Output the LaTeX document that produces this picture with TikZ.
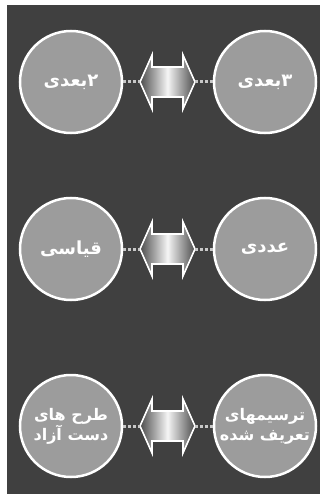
\documentclass[tikz,border=0pt]{standalone}
\usepackage{fontspec}
\TeXXeTstate=1
\newfontfamily\arabicfont[Script=Arabic]{DejaVu Sans}
\definecolor{bgdark}{HTML}{404040}
\definecolor{circfill}{HTML}{9C9C9C}
\definecolor{dotcol}{HTML}{C8C8C8}
\tikzset{
  bubble/.style={circle, draw=white, line width=2.5pt, fill=circfill, minimum size=102pt, inner sep=-25pt,
    text=white, font=\arabicfont\bfseries\fontsize{18}{21}\selectfont, align=center},
  smalltext/.style={font=\arabicfont\bfseries\fontsize{16}{20}\selectfont},
  dblarrow/.style={draw=white, line width=1.6pt, line join=miter,
    left color=gray!60!black, right color=gray!60!black, middle color=white!92!gray},
  dotlink/.style={dotcol, line width=3pt, dash pattern=on 3pt off 2pt}
}
% double arrow centred at (#2,#3); defines coordinates #1-l and #1-r at its tips
\newcommand\mydblarrow[3]{%
  \coordinate (#1-l) at (#2-27.5,#3);
  \coordinate (#1-r) at (#2+27.5,#3);
  \shade[dblarrow] (#1-l) -- (#2-15.5,#3-27) -- (#2-15.5,#3-15) -- (#2+15.5,#3-15)
    -- (#2+15.5,#3-27) -- (#1-r) -- (#2+15.5,#3+27) -- (#2+15.5,#3+15)
    -- (#2-15.5,#3+15) -- (#2-15.5,#3+27) -- cycle;}
\begin{document}
\begin{tikzpicture}[x=1pt,y=-1pt]
\useasboundingbox (0,0) rectangle (320,500);
\fill[white] (0,0) rectangle (320,500);
\fill[bgdark] (7,5) rectangle (320,494);
% row 1
\node[bubble] (l1) at (71,82) {\beginR ۲بعدی\endR};
\node[bubble] (r1) at (265,82) {\beginR ۳بعدی\endR};
\mydblarrow{a1}{167.5}{82}
\draw[dotlink] (l1.east) -- (a1-l);
\draw[dotlink] (a1-r) -- (r1.west);
% row 2
\node[bubble] (l2) at (71,249) {\beginR قیاسی\endR};
\node[bubble] (r2) at (265,249) {\beginR عددی\endR};
\mydblarrow{a2}{167.5}{249}
\draw[dotlink] (l2.east) -- (a2-l);
\draw[dotlink] (a2-r) -- (r2.west);
% row 3
\node[bubble, smalltext] (l3) at (71,426) {\beginR طرح های\endR\\\beginR دست آزاد\endR};
\node[bubble, smalltext] (r3) at (265,426) {\beginR ترسیمهای\endR\\\beginR تعریف شده\endR};
\mydblarrow{a3}{167.5}{426}
\draw[dotlink] (l3.east) -- (a3-l);
\draw[dotlink] (a3-r) -- (r3.west);
\end{tikzpicture}
\end{document}
